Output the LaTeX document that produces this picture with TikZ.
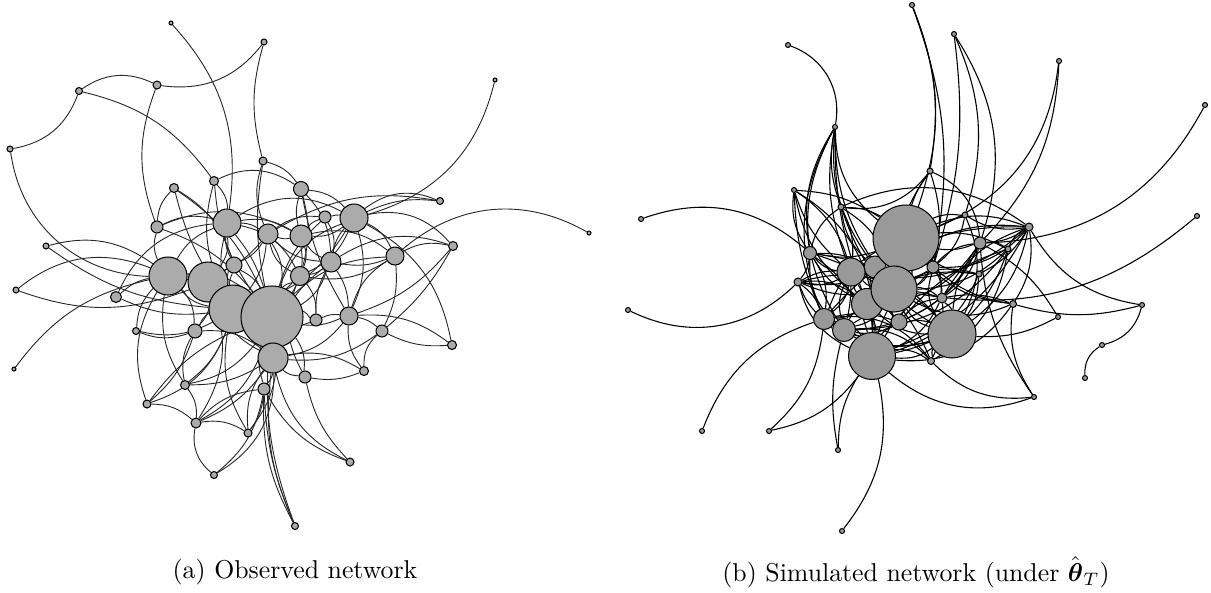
\documentclass[tikz,border=0pt]{standalone}
\usepackage{amsmath,amssymb}
\usepackage{xcolor}
\usepackage{tikz}
\usetikzlibrary{backgrounds}

\definecolor{obsgray}{RGB}{171,171,171}
\definecolor{simgray}{RGB}{153,153,153}

\begin{document}
\begin{tikzpicture}[
    x=0.013625cm, y=-0.013625cm,
    onode/.style={circle, draw=black, line width=0.4pt, fill=obsgray, inner sep=0pt, minimum size=#1*0.02725cm},
    snode/.style={circle, draw=black, line width=0.4pt, fill=simgray, inner sep=0pt, minimum size=#1*0.02725cm},
    edge/.style={draw=black!85, line width=0.35pt},
    sedge/.style={draw=black, line width=0.42pt},
    caption/.style={font=\normalsize, inner sep=0pt}
]
    \useasboundingbox (0,0) rectangle (1211,592);

    % observed network
    \foreach \nm/\px/\py/\rad in {
        a1/171/23/2, a2/264/42/3, a3/79/91/3.5, a4/157/85/4, a5/10/149/3,
        a6/495/80/2, a7/263/161/4, a8/214/181/4.5, a9/174/188/4.5, a10/301/189/7.5,
        a11/157/227/6, a12/227/223/14, a13/268/234/10, a14/301/236/11, a15/325/217/6,
        a16/354/218/14, a17/440/201/3.5, a18/46/246/3, a19/453/246/4.5, a20/589/233/2,
        a21/395/256/9, a22/234/265/8, a23/331/262/10, a24/300/276/9.5, a25/168/276/19,
        a26/208/282/20, a27/16/290/3, a28/116/297/5.5, a29/233/309/24, a30/272/317/31,
        a31/316/320/6, a32/349/316/9, a33/195/331/7, a34/136/331/3.5, a35/382/331/6,
        a36/273/358/15, a37/364/371/4.5, a38/452/345/4.5, a39/14/369/2, a40/185/385/4.5,
        a41/305/377/6, a42/264/389/6, a43/147/404/4, a44/196/423/5, a45/248/433/4,
        a46/350/462/4, a47/214/475/3.5, a48/295/526/3.5}
        \node[onode=\rad] (\nm) at (\px,\py) {};

    % simulated network
    \foreach \nm/\px/\py/\rad in {
        b1/912/5/2.5, b2/954/34/2.5, b3/788/45/2.5, b4/1059/61/2.5, b5/1205/105/2.5,
        b6/835/127/2.5, b7/930/171/3, b8/794/190/2.5, b9/841/207/3, b10/641/219/2.5,
        b11/965/215/3, b12/1197/216/2.5, b13/1029/227/4, b20/875/267/11, b14/906/238/33,
        b15/980/243/6, b16/1008/249/3, b17/810/253/6.5, b18/933/267/6, b19/851/272/14,
        b21/979/274/3, b22/798/282/4, b27/867/304/15.5, b23/894/289/23, b24/942/298/5,
        b25/1013/304/3.5, b26/1142/305/2.5, b28/628/310/2.5, b29/1058/317/2.5, b30/824/319/10.5,
        b31/899/322/8, b32/844/330/11.5, b33/952/334/24, b34/1102/345/2.5, b35/931/361/3.5,
        b36/872/356/23.5, b37/1085/378/2.5, b38/1034/397/2.5, b39/702/431/2.5, b40/769/431/2.5,
        b41/838/450/2.5, b42/842/531/2.5}
        \node[snode=\rad] (\nm) at (\px,\py) {};

    \begin{pgfonlayer}{background}
    % observed edges
    \foreach \src/\dst/\bnd in {
        a3/a4/30, a4/a2/-30, a3/a5/30, a5/a25/-40, a3/a8/20, a4/a11/-20, a2/a7/-15,
        a1/a12/25, a6/a16/30, a20/a21/-35, a18/a25/25, a18/a29/-15, a27/a25/30, a27/a26/-20,
        a39/a25/20, a28/a25/15, a28/a29/-15, a28/a12/30, a34/a29/-20, a34/a33/-20, a34/a25/20,
        a9/a11/-20, a9/a22/20, a9/a29/-10, a9/a30/15, a8/a12/20, a8/a10/30, a8/a29/-20,
        a8/a30/-15, a7/a10/20, a7/a13/-20, a7/a30/-10, a10/a16/20, a10/a14/-15, a10/a23/20,
        a10/a32/-10, a10/a24/15, a17/a16/-30, a17/a16/-15, a17/a13/-20, a19/a21/-20,
        a19/a16/-30, a19/a32/15, a19/a35/10, a19/a23/-25, a38/a16/-25, a32/a38/20, a38/a35/15,
        a11/a12/20, a11/a25/-20, a11/a30/15, a11/a14/25, a12/a13/15, a12/a14/20, a12/a25/-20,
        a12/a26/20, a12/a22/-15, a12/a30/10, a12/a29/-15, a12/a24/25, a12/a16/30,
        a13/a14/-15, a13/a15/20, a13/a23/-20, a13/a29/15, a13/a30/20, a13/a24/-25, a13/a25/25,
        a14/a15/15, a14/a16/-20, a14/a24/20, a14/a23/-15, a14/a30/20, a14/a21/25,
        a15/a16/10, a15/a23/20, a15/a30/-15, a16/a21/20, a16/a23/-15, a16/a24/20, a16/a32/20,
        a16/a30/-25, a16/a29/20, a21/a23/15, a21/a32/-20, a21/a35/15, a21/a30/-20, a21/a24/20,
        a22/a25/20, a22/a29/-10, a22/a30/15, a22/a13/-15, a22/a26/15, a23/a24/15, a23/a30/20,
        a23/a31/-15, a23/a32/15, a23/a36/-20, a24/a30/-15, a24/a31/20, a24/a29/15, a24/a41/-25,
        a25/a26/15, a25/a29/-20, a25/a33/20, a25/a30/25, a25/a40/-20, a25/a43/-25,
        a26/a29/15, a26/a30/-15, a26/a33/20, a26/a36/-20, a26/a44/25, a29/a30/10, a29/a33/-20,
        a29/a36/20, a29/a40/15, a29/a45/-20, a30/a31/15, a30/a32/-15, a30/a36/10, a30/a41/20,
        a30/a42/-15, a30/a44/20, a31/a32/15, a31/a36/-20, a32/a35/15, a32/a36/20, a32/a37/-20,
        a33/a40/-20, a33/a43/15, a33/a36/20, a35/a37/-25, a35/a36/20, a36/a41/-20, a36/a42/15,
        a36/a37/20, a36/a45/-20, a36/a44/15, a40/a44/20, a40/a36/-15, a40/a30/-20,
        a41/a37/-15, a42/a48/-15, a42/a47/20, a42/a45/15, a42/a44/-20, a43/a44/20, a43/a29/-25,
        a43/a30/15, a44/a47/-30, a44/a45/20, a45/a30/-20, a46/a36/25, a46/a42/20, a46/a41/15,
        a47/a36/-30, a48/a36/15, a48/a42/10, a48/a30/12}
        \draw[edge] (\src) to[bend left=\bnd] (\dst);

    % simulated edges
    \foreach \src/\dst/\bnd in {
        b1/b7/15, b1/b14/20, b1/b18/15, b2/b11/20, b2/b15/25, b2/b18/12, b3/b6/40,
        b4/b14/30, b4/b15/20, b5/b15/30, b12/b23/25, b6/b9/-15, b6/b17/-20, b6/b19/-15,
        b6/b14/-25, b6/b20/-20, b6/b27/-10, b6/b23/-18, b9/b7/-30, b7/b14/-10, b7/b15/30,
        b7/b18/15, b8/b17/-20, b8/b14/15, b8/b19/-15, b8/b27/-20, b8/b30/-10, b10/b17/30,
        b28/b22/-35, b39/b30/25, b40/b30/-20, b40/b36/-20, b41/b32/12, b41/b36/15,
        b42/b36/-25, b37/b34/30, b34/b26/-30, b26/b25/15, b26/b13/25, b29/b33/15,
        b29/b15/-15, b38/b35/25, b38/b36/30, b38/b25/20, b38/b15/15, b25/b13/-20,
        b25/b18/15, b25/b14/20, b25/b24/-15, b9/b14/15, b9/b17/-20, b9/b19/15, b9/b20/-20,
        b9/b13/30, b9/b23/20, b11/b14/-15, b11/b18/20, b11/b33/25, b11/b13/-20,
        b13/b14/-20, b13/b15/15, b13/b18/25, b13/b24/-20, b13/b21/15, b13/b33/20,
        b13/b16/-20, b13/b19/25, b13/b36/20, b15/b14/15, b15/b18/-20, b15/b24/20,
        b15/b33/-15, b15/b31/20, b15/b27/25, b15/b16/20, b16/b14/-15, b16/b23/20,
        b16/b32/25, b16/b31/-15, b17/b19/-20, b17/b22/15, b17/b30/20, b17/b32/-25,
        b17/b23/20, b17/b27/-15, b17/b36/20, b17/b14/-15, b17/b33/20, b18/b14/-15,
        b18/b23/20, b18/b24/15, b18/b19/-25, b18/b27/20, b19/b20/15, b19/b23/-15,
        b19/b30/20, b19/b32/-20, b19/b36/15, b19/b27/-15, b19/b22/20, b20/b23/15,
        b20/b14/-10, b20/b27/20, b20/b31/-20, b21/b14/15, b21/b23/-20, b21/b33/15,
        b21/b27/-20, b22/b30/15, b22/b32/-20, b22/b27/20, b22/b36/-25, b22/b19/15,
        b22/b23/-15, b23/b24/15, b23/b27/-15, b23/b31/20, b23/b33/-20, b23/b36/15,
        b23/b32/20, b24/b33/15, b24/b31/-20, b24/b36/20, b24/b27/-20, b24/b35/15,
        b27/b30/15, b27/b32/-15, b27/b31/20, b27/b36/15, b27/b33/-20, b30/b32/-20,
        b30/b36/25, b30/b31/15, b30/b33/-25, b31/b33/15, b31/b36/-15, b31/b32/20,
        b32/b36/15, b32/b33/-20, b32/b35/25, b33/b35/-15, b33/b36/20, b35/b36/-20,
        b14/b30/-20, b14/b32/20, b14/b36/-15, b14/b24/20, b14/b31/15, b14/b27/-20,
        b14/b22/25, b8/b32/35, b8/b36/30, b6/b30/-25, b6/b32/-30, b17/b35/25,
        b22/b33/30, b30/b35/30, b13/b30/-25, b13/b27/-30, b16/b36/30, b16/b35/25,
        b21/b36/25, b11/b27/-20, b7/b23/-15, b9/b33/-20, b25/b23/25, b25/b36/30,
        b18/b33/-25, b18/b36/-20, b15/b32/30}
        \draw[sedge] (\src) to[bend left=\bnd] (\dst);
    \end{pgfonlayer}

    % captions
    \node[caption] (capa) at (295,572) {(a) Observed network};
    \node[caption] (capb) at (916,572) {(b) Simulated network (under $\hat{\boldsymbol{\theta}}_T$)};
\end{tikzpicture}
\end{document}
